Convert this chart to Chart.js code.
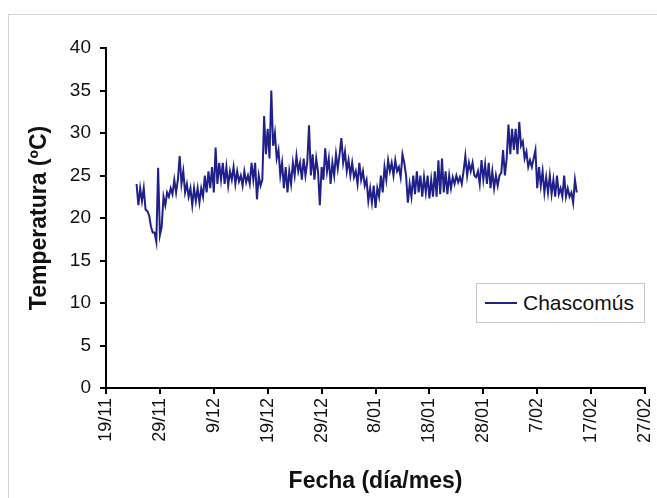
<!DOCTYPE html>
<html>
<head>
<meta charset="utf-8">
<title>Temperatura Chascomús</title>
<script src="https://cdn.jsdelivr.net/npm/chart.js@4.4.1/dist/chart.umd.min.js"></script>
<style>
    html, body { margin: 0; padding: 0; background: #fff; }
    #wrap { position: relative; width: 657px; height: 498px; overflow: hidden; }
    #frame { position: absolute; left: 8px; top: 14px; width: 700px; height: 600px; border: 1px solid #d4d4d4; }
    #chart { position: absolute; left: 0; top: 0; }
    #legend {
        position: absolute; left: 476px; top: 283px; width: 169px; height: 40px;
        border: 1px solid #c8c8c8; background: #fff; box-sizing: border-box;
        font-family: "Liberation Sans", Arial, sans-serif; font-size: 21px; color: #111;
        display: flex; align-items: center;
    }
    #legend .swatch { display: inline-block; width: 32px; height: 2px; margin: 0 6px 0 8px; }
</style>
</head>
<body>
<div id="wrap">
    <div id="frame"></div>
    <canvas id="chart" width="657" height="498"></canvas>
    <div id="legend"></div>
</div>
<script>
// Series: water temperature, three readings per day starting on 24/11
const seriesName = 'Chascomús';
const startDay = 5.67;      // days after 19/11
const samplesPerDay = 3;
const temps = [
    24.0,
    21.5, 23.5, 22.0,  23.5, 21.0, 20.8,  20.3, 19.0, 18.3,  18.3, 17.2, 25.9,
    18.0, 19.0, 22.5,  21.5, 23.0, 22.5,  23.5, 22.8, 24.5,  23.0, 24.5, 27.3,
    24.0, 25.5, 23.0,  24.0, 22.5, 23.5,  21.5, 23.5, 22.0,  23.5, 21.8, 23.5,
    22.5, 25.0, 23.0,  25.5, 23.5, 26.0,  23.0, 28.3, 24.0,  26.5, 24.5, 26.5,
    24.0, 26.0, 23.8,  25.5, 24.5, 26.0,  24.0, 25.5, 24.3,  25.0, 23.8, 25.5,
    24.2, 25.0, 24.0,  26.5, 24.5, 26.5,  22.2, 25.0, 23.8,  24.5, 32.0, 27.5,
    30.5, 27.0, 35.0,  28.5, 30.0, 27.0,  28.0, 25.0, 26.5,  23.5, 26.0, 23.0,
    25.5, 24.0, 26.5,  25.0, 27.3, 25.5,  26.5, 24.5, 27.0,  25.0, 26.5, 30.9,
    25.0, 27.5, 24.5,  27.0, 25.5, 21.5,  26.0, 24.5, 28.2,  25.5, 27.0, 24.0,
    26.5, 25.0, 27.5,  25.8, 27.5, 29.4,  26.5, 27.8, 25.5,  26.8, 25.0, 26.5,
    24.8, 25.5, 24.0,  26.5, 24.5, 25.5,  23.8, 24.5, 22.0,  23.5, 21.8, 23.8,
    21.2, 23.5, 22.5,  25.0, 23.0, 26.0,  24.5, 26.8, 25.5,  26.5, 25.0, 26.8,
    25.5, 26.0, 24.8,  27.5, 26.5, 25.0,  21.8, 24.0, 22.5,  25.0, 22.8, 25.5,
    23.0, 25.0, 22.5,  24.8, 23.0, 25.0,  22.3, 24.5, 22.5,  25.5, 22.5, 26.8,
    22.8, 27.0, 23.0,  25.5, 22.8, 25.0,  23.5, 24.8, 24.0,  25.0, 24.2, 24.8,
    24.0, 25.5, 27.3,  25.0, 26.5, 25.5,  26.5, 25.0, 24.8,  25.5, 24.0, 26.8,
    24.5, 26.3, 24.0,  26.5, 23.5, 25.5,  23.5, 25.0, 23.8,  25.0, 25.3, 28.0,
    25.0, 27.0, 31.0,  27.5, 30.5, 28.0,  30.5, 27.5, 31.3,  28.5, 29.0, 27.0,
    27.8, 26.0, 26.8,  26.0, 27.0, 28.0,  23.5, 26.0, 23.8,  25.5, 23.0, 24.8,
    23.0, 25.0, 22.8,  24.5, 22.5, 25.0,  22.8, 23.5, 22.5,  25.0, 22.5, 23.5,
    22.5, 23.0, 21.8,  24.5, 23.0
];

// Axis ticks: one label every 10 days from 19/11
const dateLabels = ['19/11', '29/11', '9/12', '19/12', '29/12', '8/01', '18/01', '28/01', '7/02', '17/02', '27/02'];
const yMin = 0, yMax = 40, yStep = 5;

const lineColor = '#20208a';
const fontFamily = '"Liberation Sans", Arial, sans-serif';

const points = temps.map((t, i) => ({ x: startDay + i / samplesPerDay, y: t }));

const ctx = document.getElementById('chart').getContext('2d');
const chart = new Chart(ctx, {
    type: 'line',
    data: {
        datasets: [{
            label: seriesName,
            data: points,
            borderColor: lineColor,
            borderWidth: 2,
            pointRadius: 0,
            tension: 0,
            fill: false
        }]
    },
    options: {
        responsive: false,
        animation: false,
        layout: { padding: { top: 48, right: 0, left: 0, bottom: 0 } },
        plugins: {
            legend: { display: false },
            tooltip: { enabled: false }
        },
        scales: {
            x: {
                type: 'linear',
                min: 0,
                max: (dateLabels.length - 1) * 10,
                afterFit: (scale) => {
                    scale.height = 110;
                    // keep the last rotated label from pushing the axis in
                    scale.paddingLeft = 0;
                    scale.paddingRight = 12;
                },
                border: { color: '#000', width: 2 },
                grid: { drawOnChartArea: false, color: '#000', tickLength: 6, lineWidth: 2 },
                ticks: {
                    stepSize: 10,
                    minRotation: 90,
                    maxRotation: 90,
                    padding: 4,
                    color: '#111',
                    font: { family: fontFamily, size: 18 },
                    callback: (v) => dateLabels[Math.round(v / 10)]
                },
                title: {
                    display: true,
                    text: 'Fecha (día/mes)',
                    color: '#111',
                    font: { family: fontFamily, size: 23, weight: 'bold' },
                    padding: { top: 0, bottom: 3 }
                }
            },
            y: {
                min: yMin,
                max: yMax,
                afterFit: (scale) => { scale.width = 106; },
                border: { color: '#000', width: 2 },
                grid: { drawOnChartArea: false, color: '#000', tickLength: 6, lineWidth: 2 },
                ticks: {
                    stepSize: yStep,
                    padding: 9,
                    color: '#111',
                    font: { family: fontFamily, size: 19 }
                },
                title: {
                    display: true,
                    text: 'Temperatura (ºC)',
                    color: '#111',
                    font: { family: fontFamily, size: 23, weight: 'bold' },
                    padding: { top: 26, bottom: 0 }
                }
            }
        }
    }
});

// HTML legend built from the dataset
const ds = chart.data.datasets[0];
document.getElementById('legend').innerHTML =
    `<span class="swatch" style="background:${ds.borderColor}"></span><span>${ds.label}</span>`;
</script>
</body>
</html>
